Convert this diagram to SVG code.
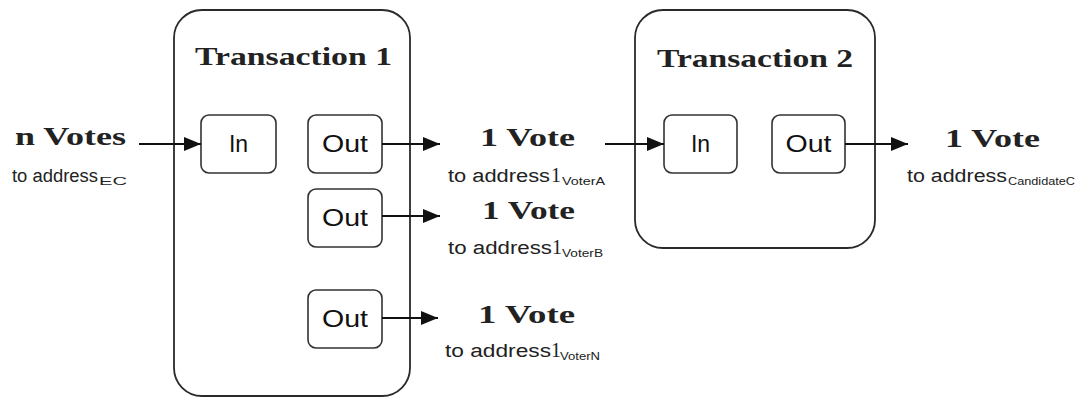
<svg xmlns="http://www.w3.org/2000/svg" width="1083" height="399" viewBox="0 0 1083 399">
  <style>
    .frame { fill: #ffffff; stroke: #2a2a2a; stroke-width: 1.8; }
    .port { fill: #ffffff; stroke: #333333; stroke-width: 1.6; }
    .title { font-family: "Liberation Serif", "DejaVu Serif", serif; font-weight: bold; font-size: 26px; fill: #222222; }
    .port-label { font-family: "Liberation Sans", "DejaVu Sans", sans-serif; font-size: 23px; fill: #111111; text-anchor: middle; }
    .amount { font-family: "Liberation Serif", "DejaVu Serif", serif; font-weight: bold; font-size: 26px; fill: #222222; }
    .addr { font-family: "Liberation Sans", "DejaVu Sans", sans-serif; font-size: 18px; fill: #222222; }
    .digit { font-family: "Liberation Serif", "DejaVu Serif", serif; font-size: 20px; fill: #222222; }
    .sub { font-family: "Liberation Sans", "DejaVu Sans", sans-serif; font-size: 10px; fill: #222222; }
    .link { stroke: #111111; stroke-width: 1.8; fill: none; marker-end: url(#arrow); }
  </style>
  <defs>
    <marker id="arrow" markerUnits="userSpaceOnUse" markerWidth="18" markerHeight="14" refX="17" refY="7" orient="auto">
      <path d="M0,0 L17,7 L0,14 Z" fill="#111111"/>
    </marker>
  </defs>

  <rect width="1083" height="399" fill="#ffffff"/>

  <!-- Transaction 1 -->
  <g id="transaction1">
    <rect class="frame" x="174" y="10" width="236" height="386" rx="28"/>
    <text class="title" x="195" y="65" textLength="197" lengthAdjust="spacingAndGlyphs">Transaction 1</text>
  </g>
  <g id="t1-in">
    <rect class="port" x="201" y="115" width="75" height="58" rx="8"/>
    <text class="port-label" x="238.5" y="152">In</text>
  </g>
  <g id="t1-out1">
    <rect class="port" x="308" y="115" width="74" height="58" rx="8"/>
    <text class="port-label" x="345" y="152" textLength="46" lengthAdjust="spacingAndGlyphs">Out</text>
  </g>
  <g id="t1-out2">
    <rect class="port" x="308" y="189" width="74" height="58" rx="8"/>
    <text class="port-label" x="345" y="226" textLength="46" lengthAdjust="spacingAndGlyphs">Out</text>
  </g>
  <g id="t1-out3">
    <rect class="port" x="308" y="290" width="74" height="58" rx="8"/>
    <text class="port-label" x="345" y="327" textLength="46" lengthAdjust="spacingAndGlyphs">Out</text>
  </g>

  <!-- Transaction 2 -->
  <g id="transaction2">
    <rect class="frame" x="635" y="10" width="240" height="238" rx="28"/>
    <text class="title" x="657" y="67" textLength="196" lengthAdjust="spacingAndGlyphs">Transaction 2</text>
  </g>
  <g id="t2-in">
    <rect class="port" x="664" y="115" width="73" height="58" rx="8"/>
    <text class="port-label" x="700.5" y="152">In</text>
  </g>
  <g id="t2-out">
    <rect class="port" x="772" y="115" width="73" height="58" rx="8"/>
    <text class="port-label" x="808.5" y="152" textLength="46" lengthAdjust="spacingAndGlyphs">Out</text>
  </g>

  <!-- Vote labels -->
  <g id="source-votes">
    <text class="amount" x="15" y="145" font-size="21" textLength="111" lengthAdjust="spacingAndGlyphs">n Votes</text>
    <text class="addr" x="12" y="182" textLength="86" lengthAdjust="spacingAndGlyphs">to address</text>
    <text class="sub" x="99" y="185" textLength="28" lengthAdjust="spacingAndGlyphs">EC</text>
  </g>
  <g id="vote-a">
    <text class="amount" x="480" y="146" textLength="95" lengthAdjust="spacingAndGlyphs">1 Vote</text>
    <text class="addr" x="448" y="182" textLength="102" lengthAdjust="spacingAndGlyphs">to address</text>
    <text class="digit" x="551" y="182">1</text>
    <text class="sub" x="562" y="185" textLength="43" lengthAdjust="spacingAndGlyphs">VoterA</text>
  </g>
  <g id="vote-b">
    <text class="amount" x="482" y="219" textLength="93" lengthAdjust="spacingAndGlyphs">1 Vote</text>
    <text class="addr" x="448" y="254" textLength="104" lengthAdjust="spacingAndGlyphs">to address</text>
    <text class="digit" x="552" y="254">1</text>
    <text class="sub" x="562" y="257" textLength="41" lengthAdjust="spacingAndGlyphs">VoterB</text>
  </g>
  <g id="vote-n">
    <text class="amount" x="478" y="323" textLength="97" lengthAdjust="spacingAndGlyphs">1 Vote</text>
    <text class="addr" x="445" y="357" textLength="106" lengthAdjust="spacingAndGlyphs">to address</text>
    <text class="digit" x="551" y="357">1</text>
    <text class="sub" x="560" y="360" textLength="40" lengthAdjust="spacingAndGlyphs">VoterN</text>
  </g>
  <g id="vote-c">
    <text class="amount" x="945" y="147" textLength="95" lengthAdjust="spacingAndGlyphs">1 Vote</text>
    <text class="addr" x="907" y="182" textLength="100" lengthAdjust="spacingAndGlyphs">to address</text>
    <text class="sub" x="1008" y="185" textLength="67" lengthAdjust="spacingAndGlyphs">CandidateC</text>
  </g>

  <!-- Connectors -->
  <g id="connectors">
    <line class="link" x1="139" y1="144" x2="201" y2="144"/>
    <line class="link" x1="382" y1="144" x2="440" y2="144"/>
    <line class="link" x1="382" y1="216" x2="440" y2="216"/>
    <line class="link" x1="382" y1="318" x2="438" y2="318"/>
    <line class="link" x1="605" y1="144" x2="664" y2="144"/>
    <line class="link" x1="845" y1="144" x2="908" y2="144"/>
  </g>
</svg>
